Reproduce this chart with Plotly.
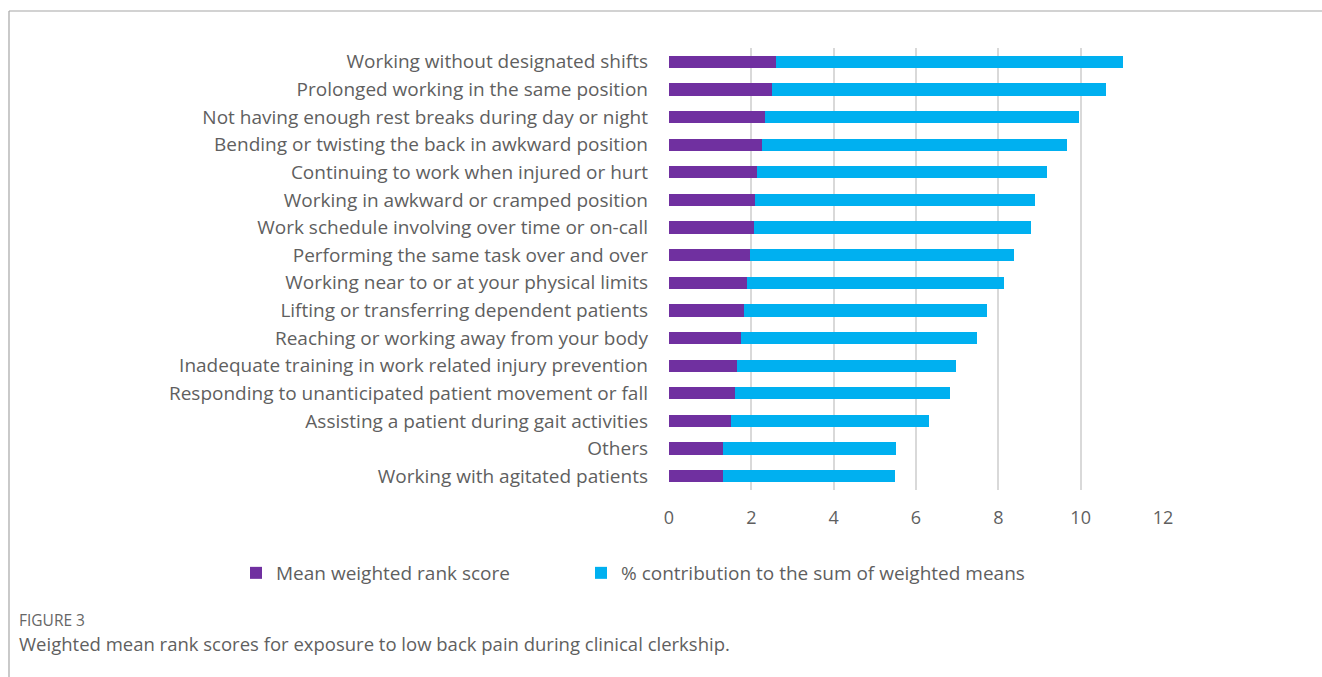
import plotly.graph_objects as go

categories = [
    "Working without designated shifts",
    "Prolonged working in the same position",
    "Not having enough rest breaks during day or night",
    "Bending or twisting the back in awkward position",
    "Continuing to work when injured or hurt",
    "Working in awkward or cramped position",
    "Work schedule involving over time or on-call",
    "Performing the same task over and over",
    "Working near to or at your physical limits",
    "Lifting or transferring dependent patients",
    "Reaching or working away from your body",
    "Inadequate training in work related injury prevention",
    "Responding to unanticipated patient movement or fall",
    "Assisting a patient during gait activities",
    "Others",
    "Working with agitated patients",
]
mean_weighted = [2.59, 2.50, 2.34, 2.26, 2.14, 2.10, 2.06, 1.96, 1.90, 1.82, 1.76, 1.66, 1.60, 1.50, 1.30, 1.30]
pct_contribution = [8.44, 8.11, 7.61, 7.42, 7.03, 6.80, 6.73, 6.41, 6.24, 5.91, 5.72, 5.30, 5.23, 4.81, 4.22, 4.19]
x_ticks = [0, 2, 4, 6, 8, 10, 12]

FONT = "Open Sans, Lato, sans-serif"
TXT = "#5f5f5f"

fig = go.Figure()
fig.add_trace(go.Bar(y=categories, x=mean_weighted, orientation="h",
                     name="Mean weighted rank score", marker_color="#7030A0",
                     marker_line_width=0, legend="legend"))
fig.add_trace(go.Bar(y=categories, x=pct_contribution, orientation="h",
                     name="% contribution to the sum of weighted means", marker_color="#00B0F0",
                     marker_line_width=0, legend="legend2"))

W, H = 1322, 677
L, R, T, B = 669, 1163, 48, 490
pw, ph = R - L, B - T

def px(x):
    return (x - L) / pw

def py(y):
    return (B - y) / ph

leg_common = dict(orientation="h", xanchor="left", yanchor="middle",
                  font=dict(size=19, color=TXT, family=FONT), itemwidth=30,
                  bgcolor="rgba(0,0,0,0)", borderwidth=0)

fig.update_layout(
    width=W, height=H,
    barmode="stack", bargap=0.56,
    margin=dict(l=L, r=W - R, t=T, b=H - B, pad=0),
    paper_bgcolor="white", plot_bgcolor="white",
    font=dict(family=FONT, color=TXT, size=18),
    xaxis=dict(range=[0, 12], tickvals=x_ticks, showgrid=True, gridcolor="#d9d9d9",
               gridwidth=1.5, zeroline=False, showline=False, ticks="",
               tickfont=dict(size=18, color=TXT), ticklabelstandoff=15),
    yaxis=dict(autorange="reversed", showgrid=False, ticks="", showline=False,
               tickfont=dict(size=19, color=TXT), ticklabelstandoff=20),
    legend=dict(x=px(236), y=py(573), **leg_common),
    legend2=dict(x=px(581), y=py(573), **leg_common),
    showlegend=True,
    shapes=[
        dict(type="line", xref="paper", yref="paper", x0=px(9), x1=px(9), y0=py(11), y1=py(680),
             line=dict(color="#a6a6a6", width=1.2)),
        dict(type="line", xref="paper", yref="paper", x0=px(9), x1=px(1330), y0=py(11), y1=py(11),
             line=dict(color="#a6a6a6", width=1.2)),
    ],
    annotations=[
        dict(text="FIGURE 3", xref="paper", yref="paper", x=px(17), y=py(620), xanchor="left",
             yanchor="middle", showarrow=False, font=dict(size=15.5, color="#666666", family=FONT)),
        dict(text="Weighted mean rank scores for exposure to low back pain during clinical clerkship.",
             xref="paper", yref="paper", x=px(17), y=py(643), xanchor="left", yanchor="middle",
             showarrow=False, font=dict(size=18.5, color=TXT, family=FONT)),
    ],
)

fig.write_html("out.html")
